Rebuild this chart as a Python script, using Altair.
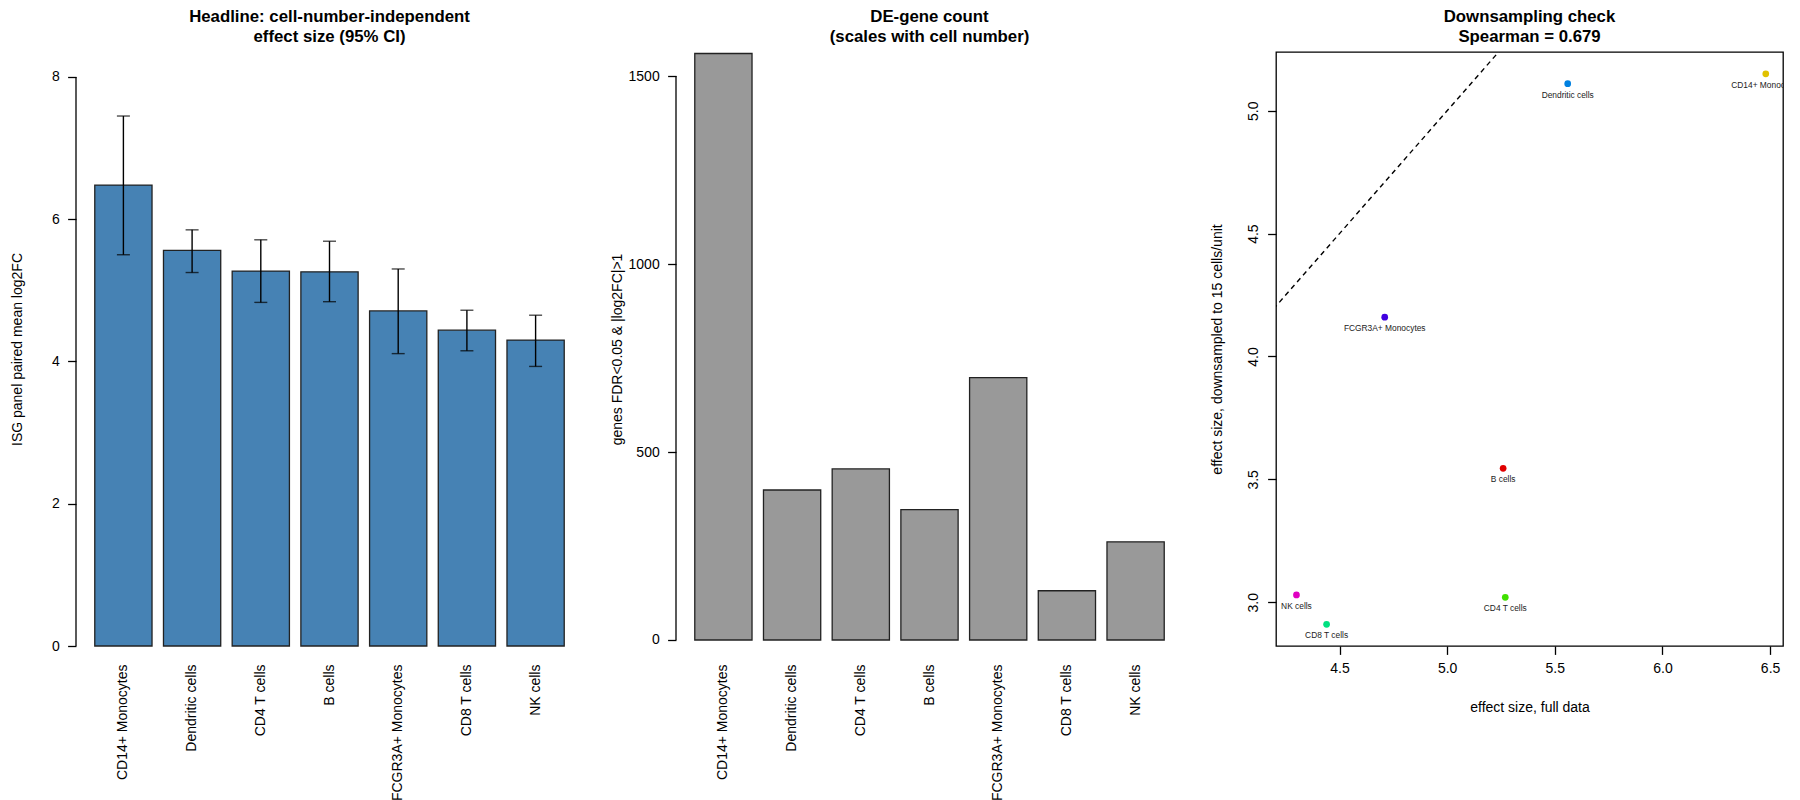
import altair as alt
import pandas as pd

# ---------------- data ----------------
cell_types = ["CD14+ Monocytes", "Dendritic cells", "CD4 T cells", "B cells",
              "FCGR3A+ Monocytes", "CD8 T cells", "NK cells"]
effect = [6.48, 5.56, 5.27, 5.26, 4.71, 4.44, 4.30]
ci_lo = [5.50, 5.25, 4.83, 4.84, 4.11, 4.15, 3.93]
ci_hi = [7.45, 5.85, 5.71, 5.69, 5.30, 4.72, 4.65]
de_count = [1560, 399, 455, 347, 698, 131, 261]
down_effect = [5.15, 5.11, 3.02, 3.545, 4.16, 2.91, 3.03]

color_domain = ["B cells", "CD14+ Monocytes", "CD4 T cells", "CD8 T cells",
                "Dendritic cells", "FCGR3A+ Monocytes", "NK cells"]
color_range = ["#E00000", "#E0C100", "#40E000", "#00E080",
               "#0080E0", "#4000E0", "#E000C1"]

identity_line = [4.0, 7.0]
y1_ticks = [0, 2, 4, 6, 8]
y2_ticks = [0, 500, 1000, 1500]
x3_ticks = [4.5, 5.0, 5.5, 6.0, 6.5]
y3_ticks = [3.0, 3.5, 4.0, 4.5, 5.0]

FONT = "Liberation Sans"
W, H = 507, 594
TICK = 8.4

df = pd.DataFrame({"cell": cell_types, "effect": effect, "lo": ci_lo, "hi": ci_hi,
                   "count": de_count, "down": down_effect, "base": 0})
axis_line1 = pd.DataFrame({"a": [y1_ticks[0]], "b": [y1_ticks[-1]]})
axis_line2 = pd.DataFrame({"a": [y2_ticks[0]], "b": [y2_ticks[-1]]})
ident = pd.DataFrame({"x": identity_line, "y": identity_line})


def title(lines):
    return alt.TitleParams(lines, fontSize=16.8, font=FONT, fontWeight="bold",
                           lineHeight=20, offset=6, frame="group", anchor="middle",
                           color="black")


def band_x():
    return alt.X("cell:N", sort=cell_types, title=None,
                 scale=alt.Scale(paddingInner=0.1667, paddingOuter=0.2733),
                 axis=alt.Axis(labelAngle=-90, ticks=False, tickSize=0, domain=False,
                               labelPadding=18, labelAlign="right",
                               labelBaseline="middle", labelFontSize=14))


def left_axis(values, ttl):
    return alt.Axis(values=values, format="d", domain=False, tickSize=TICK,
                    labelPadding=8.4, grid=False, title=ttl, titleX=-59,
                    titleBaseline="middle", titleAngle=270, labelFontSize=14,
                    titleFontSize=14)


def bar_panel(value_field, fill, scale, ticks, ylab, axis_df, extra_layers, ttl):
    yax = left_axis(ticks, ylab)
    bars = alt.Chart(df).mark_bar(color=fill, stroke="#222222", strokeWidth=1.3).encode(
        x=band_x(),
        y=alt.Y(f"{value_field}:Q", scale=scale, axis=yax),
        y2="base:Q",
    )
    axline = alt.Chart(axis_df).mark_rule(color="black", strokeWidth=1.3).encode(
        x=alt.value(0), y=alt.Y("a:Q", scale=scale, axis=yax), y2="b:Q")
    layers = [bars] + [l(yax) for l in extra_layers] + [axline]
    return alt.layer(*layers).properties(width=W, height=H, title=title(ttl))


# ---------------- panel 1 ----------------
y1_scale = alt.Scale(domain=[0, 8.35], nice=False, zero=False)


def err_layer(yax):
    return alt.Chart(df).mark_rule(color="black", strokeWidth=1.4).encode(
        x=alt.X("cell:N", sort=cell_types), y=alt.Y("lo:Q", axis=yax), y2="hi:Q")


def cap_lo_layer(yax):
    return alt.Chart(df).mark_tick(color="black", thickness=1.4, size=13).encode(
        x=alt.X("cell:N", sort=cell_types), y=alt.Y("lo:Q", axis=yax))


def cap_hi_layer(yax):
    return alt.Chart(df).mark_tick(color="black", thickness=1.4, size=13).encode(
        x=alt.X("cell:N", sort=cell_types), y=alt.Y("hi:Q", axis=yax))


p1 = bar_panel("effect", "#4682B4", y1_scale, y1_ticks, "ISG panel paired mean log2FC",
               axis_line1, [err_layer, cap_lo_layer, cap_hi_layer],
               ["Headline: cell-number-independent", "effect size (95% CI)"])

# ---------------- panel 2 ----------------
y2_scale = alt.Scale(domain=[-16, 1564], nice=False, zero=False)
p2 = bar_panel("count", "#999999", y2_scale, y2_ticks, "genes FDR<0.05 & |log2FC|>1",
               axis_line2, [], ["DE-gene count", "(scales with cell number)"])

# ---------------- panel 3 ----------------
x3_scale = alt.Scale(domain=[4.205, 6.56], nice=False, zero=False)
y3_scale = alt.Scale(domain=[2.822, 5.239], nice=False, zero=False)
x3_axis = alt.Axis(values=x3_ticks, format=".1f", domain=False, tickSize=TICK,
                   labelPadding=7.5, grid=False, title="effect size, full data",
                   titleY=61, titleBaseline="middle", labelFontSize=14, titleFontSize=14)
y3_axis = alt.Axis(values=y3_ticks, format=".1f", domain=False, tickSize=TICK,
                   labelPadding=10.6, labelAngle=270, labelAlign="center",
                   labelBaseline="alphabetic", grid=False,
                   title="effect size, downsampled to 15 cells/unit",
                   titleX=-59, titleBaseline="middle", titleAngle=270,
                   labelFontSize=14, titleFontSize=14)

line3 = alt.Chart(ident).mark_line(color="black", strokeDash=[5, 4], strokeWidth=1.4,
                                   clip=True).encode(
    x=alt.X("x:Q", scale=x3_scale, axis=x3_axis),
    y=alt.Y("y:Q", scale=y3_scale, axis=y3_axis))
pts3 = alt.Chart(df).mark_circle(size=45, opacity=1).encode(
    x=alt.X("effect:Q", scale=x3_scale, axis=x3_axis),
    y=alt.Y("down:Q", scale=y3_scale, axis=y3_axis),
    color=alt.Color("cell:N", scale=alt.Scale(domain=color_domain, range=color_range),
                    legend=None))
lab3 = alt.Chart(df).mark_text(fontSize=8.4, font=FONT, baseline="top", dy=7,
                               color="#222222", clip=True).encode(
    x=alt.X("effect:Q", scale=x3_scale, axis=x3_axis),
    y=alt.Y("down:Q", scale=y3_scale, axis=y3_axis),
    text="cell:N")
p3 = alt.layer(line3, pts3, lab3).properties(
    width=W, height=H,
    title=title(["Downsampling check", "Spearman = 0.679"]),
    view=alt.ViewBackground(stroke="black", strokeWidth=1.3))

chart = alt.hconcat(p1, p2, p3, spacing=93, bounds="flush").properties(
    padding={"left": 2, "top": 0, "right": 5, "bottom": 5}
).configure(
    font=FONT,
).configure_view(
    stroke=None
).configure_axis(
    labelFont=FONT, titleFont=FONT, labelColor="black", titleColor="black",
    tickColor="black", tickWidth=1.3, titleFontWeight="normal"
)

chart.save("out.html", embed_options={"renderer": "svg", "actions": False})
